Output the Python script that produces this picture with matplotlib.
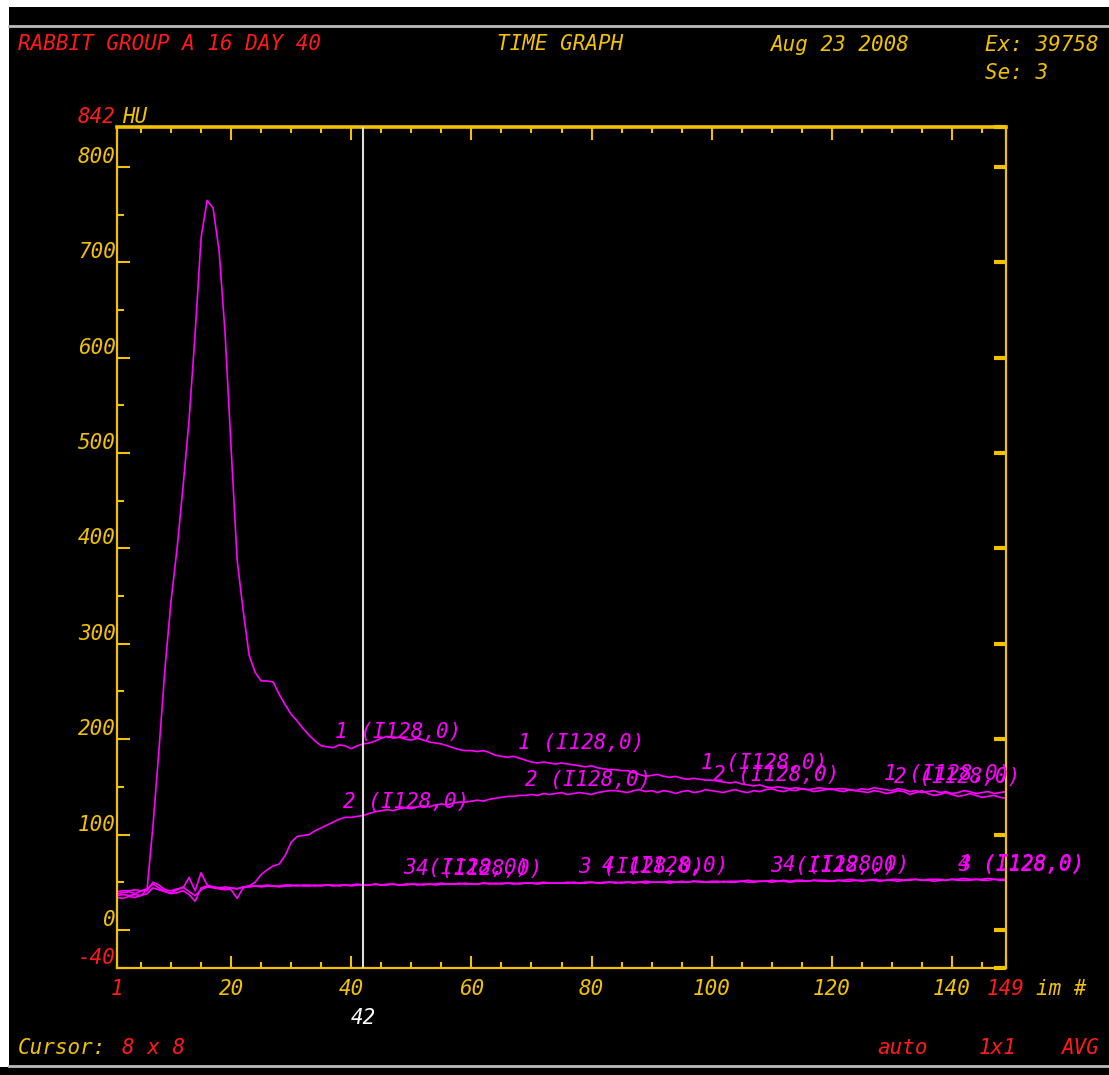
import numpy as np
import matplotlib
matplotlib.use("Agg")
import matplotlib.pyplot as plt
from matplotlib.ticker import MultipleLocator
from matplotlib.patches import Rectangle
from matplotlib.lines import Line2D

YELLOW = "#F2C200"
RED = "#FF1A1A"
MAGENTA = "#FF00FF"

# ROI mean values (HU) per image number
roi1 = [34, 33, 35, 34, 36, 42, 110, 190, 275, 345,
        400, 465, 535, 625, 726, 765, 757, 712, 625, 505,
        388, 335, 288, 270, 261, 261, 260, 247, 236, 226,
        219, 211, 204, 198, 193, 192, 191, 194, 193, 190,
        193, 195, 196, 198, 201, 203, 201, 202, 200, 199,
        201, 199, 197, 196, 195, 193, 191, 189, 188, 188,
        187, 188, 186, 183, 182, 181, 182, 180, 178, 176,
        175, 176, 175, 174, 175, 174, 173, 172, 171, 172,
        170, 169, 168, 168, 167, 167, 165, 163, 161, 162,
        163, 161, 160, 161, 159, 158, 159, 158, 157, 157,
        156, 155, 154, 155, 153, 152, 151, 152, 150, 149,
        150, 149, 148, 149, 148, 147, 148, 149, 148, 147,
        148, 148, 147, 146, 148, 147, 149, 148, 147, 146,
        148, 147, 145, 146, 144, 145, 146, 144, 145, 143,
        144, 146, 145, 143, 144, 145, 143, 144, 145]

roi2 = [38, 39, 40, 38, 41, 43, 48, 44, 40, 39, 42, 45, 40, 36, 42, 45,
        44, 43, 42, 44, 43, 45, 46,
        50, 58, 63, 67, 69, 78, 92, 98, 99, 100,
        104, 107, 110, 113, 116, 118, 118, 119, 120, 122,
        124, 125, 126, 125, 127, 128, 127, 129, 130, 129,
        131, 132, 131, 133, 134, 134, 135, 136, 135, 137,
        138, 139, 140, 140, 141, 141, 142, 141, 143, 142,
        143, 144, 142, 143, 144, 143, 142, 144, 145, 146,
        146, 145, 144, 146, 147, 145, 146, 144, 146, 145,
        143, 145, 146, 144, 145, 147, 146, 145, 144, 146,
        147, 145, 144, 146, 145, 147, 148, 146, 145, 147,
        146, 148, 147, 145, 146, 147, 148, 146, 145, 147,
        146, 145, 144, 146, 145, 143, 144, 146, 145, 142,
        144, 146, 143, 141, 142, 144, 142, 140, 141, 143,
        141, 139, 140, 141, 139, 138]

roi3 = [40, 41, 41, 42, 41, 41, 50, 47, 42, 41, 43, 44, 55, 41, 60, 47,
        45, 44, 43, 42, 33, 44, 46, 46,
        46, 47, 46, 46, 47, 47, 46, 47, 47, 46, 47, 47, 47, 46, 47, 47,
        48, 47, 47, 48, 47, 48, 48, 47, 48,
        48, 48, 47, 48, 48, 49, 48, 48, 48, 49, 48, 48, 49, 49, 48, 49,
        49, 48, 49, 49, 49, 48, 49, 49, 49,
        49, 50, 49, 49, 49, 50, 49, 49, 50, 49, 50, 50, 49, 50, 49, 50,
        50, 50, 49, 50, 50, 50, 51, 50, 50,
        50, 50, 51, 50, 50, 51, 50, 50, 51, 51, 50, 51, 51, 50, 51, 51,
        51, 52, 51, 51, 51, 52, 51, 51, 52,
        51, 52, 52, 51, 52, 52, 51, 52, 52, 53, 52, 52, 51, 52, 52, 53,
        52, 52, 52, 53, 52, 52, 53, 52, 52]

roi4 = [36, 37, 36, 37, 36, 38, 44, 42, 40, 38, 39, 41, 37, 30, 44, 46,
        45, 44, 45, 44, 43, 45, 45, 46,
        45, 46, 46, 45, 46, 46, 47, 46, 46, 47, 46, 47, 46, 47, 47, 46,
        47, 47, 47, 48, 47, 47, 48, 47, 47,
        48, 47, 48, 48, 47, 48, 48, 48, 49, 48, 48, 48, 49, 48, 49, 48,
        49, 49, 48, 49, 49, 49, 50, 49, 49,
        49, 49, 50, 49, 50, 50, 49, 50, 50, 50, 49, 50, 50, 50, 51, 50,
        50, 50, 51, 50, 51, 50, 51, 51, 50,
        51, 51, 50, 51, 51, 51, 52, 51, 51, 51, 52, 51, 52, 51, 52, 52,
        51, 52, 52, 52, 51, 52, 52, 53, 52,
        52, 52, 53, 52, 52, 53, 53, 52, 53, 53, 52, 53, 53, 53, 52, 53,
        53, 54, 53, 53, 53, 54, 53, 53, 53]

curves = [roi1, roi2, roi3, roi4]
roi_names = ["1", "2", "3", "4"]
roi_tag = "(I128,0)"
# image numbers where each ROI label is written
label_frames = [[37.3, 67.7, 98.2, 128.7],
                [38.7, 69.0, 100.3, 130.3],
                [48.7, 77.8, 109.8, 141.0],
                [50.7, 81.8, 111.8, 141.0]]

x_ticks = [1, 20, 40, 60, 80, 100, 120, 140, 149]
x_tick_text = ["1", "20", "40", "60", "80", "100", "120", "140", "149"]
y_ticks = [-40, 0, 100, 200, 300, 400, 500, 600, 700, 800, 842]
y_tick_text = ["-40", "0", "100", "200", "300", "400", "500", "600", "700", "800", "842"]
cursor_frame = 42

plt.rcParams["font.family"] = "DejaVu Sans Mono"
plt.rcParams["font.style"] = "oblique"
plt.rcParams["font.size"] = 15

W, H = 1109, 1075
fig = plt.figure(figsize=(W / 100, H / 100), dpi=100)
fig.patch.set_facecolor("white")


def fx(px):
    return px / W


def fy(py):
    return 1 - py / H


# screen background and separator lines
fig.add_artist(Rectangle((fx(9), 0), 1 - fx(9), fy(7), transform=fig.transFigure,
                         facecolor="black", edgecolor="none", zorder=0))
fig.add_artist(Rectangle((0, 0), 1, fy(1067), transform=fig.transFigure,
                         facecolor="black", edgecolor="none", zorder=0))
fig.add_artist(Line2D([fx(9), 1], [fy(26), fy(26)], color="#BBBBBB", lw=2))
fig.add_artist(Line2D([fx(9), 1], [fy(1066), fy(1066)], color="#BBBBBB", lw=2))

ax = fig.add_axes([fx(117), fy(968), (1006 - 117) / W, (968 - 127) / H])
ax.set_facecolor("black")

for vals in curves:
    ax.plot(np.arange(1, len(vals) + 1), vals, color=MAGENTA, lw=1.2, zorder=2)

for name, vals, frames in zip(roi_names, curves, label_frames):
    for f in frames:
        v = vals[int(round(f)) - 1]
        ax.text(f, v + 6, f"{name} {roi_tag}", color=MAGENTA, ha="left", va="bottom",
                clip_on=False, zorder=4)

ax.axvline(cursor_frame, color="#DDDDDD", lw=1.5, zorder=3)

ax.set_xlim(1, 149)
ax.set_ylim(-40, 842)

for side in ["left", "right", "bottom", "top"]:
    ax.spines[side].set_color(YELLOW)
    ax.spines[side].set_linewidth(1.6)
ax.spines["top"].set_linewidth(2.6)

ax.set_xticks(x_ticks, x_tick_text)
ax.xaxis.set_minor_locator(MultipleLocator(5))
ax.set_yticks(y_ticks, y_tick_text)
ax.yaxis.set_minor_locator(MultipleLocator(50))

ax.tick_params(axis="x", which="both", direction="in", top=True, bottom=True,
               color=YELLOW, labelcolor=YELLOW, width=1.5, pad=8, labelsize=15)
ax.tick_params(axis="x", which="major", length=9)
ax.tick_params(axis="x", which="minor", length=4.5)
ax.tick_params(axis="y", which="both", direction="in", left=True, right=True,
               color=YELLOW, labelcolor=YELLOW, width=1.5, pad=1, labelsize=15)
ax.tick_params(axis="y", which="major", length=9.5)
ax.tick_params(axis="y", which="minor", length=5, right=False)

for tick in ax.yaxis.get_major_ticks():
    tick.tick2line.set_markeredgewidth(3)
    tick.tick2line.set_markersize(9)

for lab in ax.get_yticklabels():
    lab.set_va("bottom")
    if lab.get_text() in ("-40", "842"):
        lab.set_color(RED)
for lab in ax.get_xticklabels():
    if lab.get_text() in ("1", "149"):
        lab.set_color(RED)

fig.text(fx(122), fy(127), "HU", color=YELLOW, ha="left", va="bottom")
fig.text(fx(1036), fy(989), "im #", color=YELLOW, ha="left", va="center")
ax.annotate("42", xy=(cursor_frame, 0), xycoords=("data", "axes fraction"),
            xytext=(0, -50), textcoords="offset pixels", ha="center", va="center",
            color="white")

# header
fig.text(fx(18), fy(44), "RABBIT GROUP A 16 DAY 40", color=RED, va="center")
fig.text(fx(497), fy(44), "TIME GRAPH", color=YELLOW, va="center")
fig.text(fx(770), fy(45), "Aug 23 2008", color=YELLOW, va="center")
fig.text(fx(985), fy(45), "Ex: 39758", color=YELLOW, va="center")
fig.text(fx(985), fy(73), "Se: 3", color=YELLOW, va="center")

# footer
fig.text(fx(18), fy(1048), "Cursor:", color=YELLOW, va="center")
fig.text(fx(122), fy(1048), "8 x 8", color=RED, va="center")
fig.text(fx(877), fy(1048), "auto", color=RED, va="center")
fig.text(fx(979), fy(1048), "1x1", color=RED, va="center")
fig.text(fx(1061), fy(1048), "AVG", color=RED, va="center")

fig.savefig("out.png", dpi=100, facecolor=fig.get_facecolor())
